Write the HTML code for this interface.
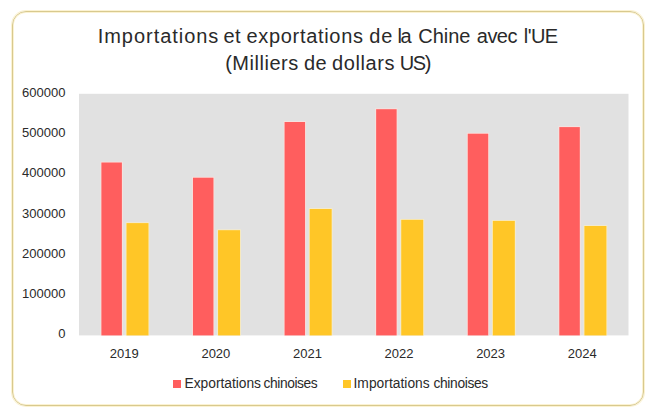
<!DOCTYPE html>
<html><head><meta charset="utf-8"><style>
html,body{margin:0;padding:0;background:#fff;width:654px;height:416px;overflow:hidden;}
body{position:relative;font-family:"Liberation Sans",sans-serif;color:#2A2A2A;}
.box{position:absolute;box-sizing:border-box;left:12px;top:11px;width:632px;height:395px;border:1px solid #D8C98E;border-radius:14px;box-shadow:0 0 0 1px #FBF2D2, inset 0 0 0 1px #FBF2D2;}
.t{position:absolute;font-size:20px;white-space:pre;line-height:20px;}
.yl{position:absolute;left:0;width:65.5px;text-align:right;font-size:13px;line-height:18px;}
.xl{position:absolute;top:344.5px;width:80px;text-align:center;font-size:13px;line-height:18px;}
.lg{position:absolute;font-size:13.8px;line-height:18px;white-space:pre;}
.sq{position:absolute;width:8px;height:8px;top:380px;}
svg{position:absolute;left:0;top:0;}
</style></head><body>
<div class="box"></div>
<span class="t" style="left:97.70px;top:26px;letter-spacing:0.964px">Importations</span><span class="t" style="left:223.50px;top:26px;letter-spacing:0.500px">et</span><span class="t" style="left:246.50px;top:26px;letter-spacing:0.682px">exportations</span><span class="t" style="left:369.30px;top:26px;letter-spacing:0.900px">de</span><span class="t" style="left:397.40px;top:26px;letter-spacing:-1.400px">la</span><span class="t" style="left:418.30px;top:26px;letter-spacing:-0.050px">Chine</span><span class="t" style="left:476.80px;top:26px;letter-spacing:-0.533px">avec</span><span class="t" style="left:523.80px;top:26px;letter-spacing:-0.567px">l&#39;UE</span><span class="t" style="left:225.20px;top:53px;letter-spacing:0.525px">(Milliers</span><span class="t" style="left:303.90px;top:53px;letter-spacing:0.500px">de</span><span class="t" style="left:332.10px;top:53px;letter-spacing:0.583px">dollars</span><span class="t" style="left:399.70px;top:53px;letter-spacing:-1.300px">US)</span>
<svg width="654" height="416" viewBox="0 0 654 416">
<rect x="79" y="93.8" width="549.5" height="241.59999999999997" fill="#E1E1E1"/>
<rect x="100.59" y="161.70" width="22.1" height="173.70" fill="#FCE2DE"/><rect x="101.39" y="162.50" width="20.5" height="172.90" fill="#FF5E5E"/><rect x="125.69" y="222.30" width="23.6" height="113.10" fill="#F8EDC8"/><rect x="126.49" y="223.10" width="22" height="112.30" fill="#FFC627"/><rect x="192.17" y="176.90" width="22.1" height="158.50" fill="#FCE2DE"/><rect x="192.97" y="177.70" width="20.5" height="157.70" fill="#FF5E5E"/><rect x="217.27" y="229.40" width="23.6" height="106.00" fill="#F8EDC8"/><rect x="218.07" y="230.20" width="22" height="105.20" fill="#FFC627"/><rect x="283.76" y="121.20" width="22.1" height="214.20" fill="#FCE2DE"/><rect x="284.56" y="122.00" width="20.5" height="213.40" fill="#FF5E5E"/><rect x="308.86" y="208.20" width="23.6" height="127.20" fill="#F8EDC8"/><rect x="309.66" y="209.00" width="22" height="126.40" fill="#FFC627"/><rect x="375.34" y="108.40" width="22.1" height="227.00" fill="#FCE2DE"/><rect x="376.14" y="109.20" width="20.5" height="226.20" fill="#FF5E5E"/><rect x="400.44" y="219.00" width="23.6" height="116.40" fill="#F8EDC8"/><rect x="401.24" y="219.80" width="22" height="115.60" fill="#FFC627"/><rect x="466.93" y="132.90" width="22.1" height="202.50" fill="#FCE2DE"/><rect x="467.73" y="133.70" width="20.5" height="201.70" fill="#FF5E5E"/><rect x="492.02" y="220.10" width="23.6" height="115.30" fill="#F8EDC8"/><rect x="492.82" y="220.90" width="22" height="114.50" fill="#FFC627"/><rect x="558.51" y="126.30" width="22.1" height="209.10" fill="#FCE2DE"/><rect x="559.31" y="127.10" width="20.5" height="208.30" fill="#FF5E5E"/><rect x="583.61" y="225.20" width="23.6" height="110.20" fill="#F8EDC8"/><rect x="584.41" y="226.00" width="22" height="109.40" fill="#FFC627"/>
</svg>
<div class="yl" style="top:83.80px">600000</div><div class="yl" style="top:124.07px">500000</div><div class="yl" style="top:164.33px">400000</div><div class="yl" style="top:204.60px">300000</div><div class="yl" style="top:244.87px">200000</div><div class="yl" style="top:285.13px">100000</div><div class="yl" style="top:325.40px">0</div>
<div class="xl" style="left:84.29px">2019</div><div class="xl" style="left:175.88px">2020</div><div class="xl" style="left:267.46px">2021</div><div class="xl" style="left:359.04px">2022</div><div class="xl" style="left:450.62px">2023</div><div class="xl" style="left:542.21px">2024</div>
<div class="sq" style="left:173px;background:#FF5E5E"></div>
<div class="sq" style="left:342.5px;top:379.5px;width:8.5px;height:8.5px;background:#FFC627"></div>
<span class="lg" style="left:184.50px;top:375px;letter-spacing:-0.018px">Exportations</span><span class="lg" style="left:263.60px;top:375px;letter-spacing:-0.425px">chinoises</span><span class="lg" style="left:353.50px;top:375px;letter-spacing:0.027px">Importations</span><span class="lg" style="left:433.50px;top:375px;letter-spacing:-0.350px">chinoises</span>
</body></html>
